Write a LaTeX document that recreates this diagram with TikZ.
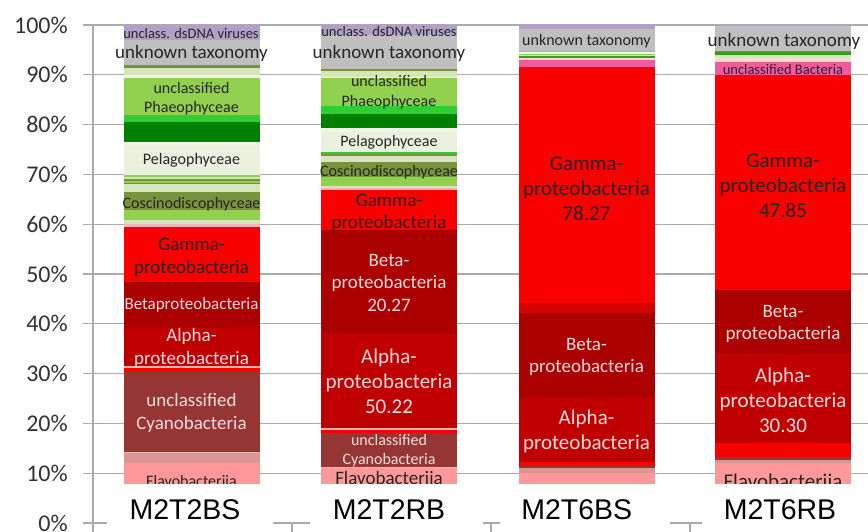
\documentclass[tikz,border=0pt]{standalone}
\usepackage{fontspec}
\setmainfont{Carlito}
\newfontfamily\catfont{Liberation Sans}
\usepackage{tikz}
\usetikzlibrary{positioning}
\usepackage{xcolor}
\definecolor{virpurple}{RGB}{178,161,199}
\definecolor{unkgray}{RGB}{191,191,191}
\definecolor{olive}{RGB}{119,147,60}
\definecolor{palegreen}{RGB}{215,228,189}
\definecolor{paleline}{RGB}{240,245,232}
\definecolor{lightgreen}{RGB}{146,208,80}
\definecolor{brightgreen}{RGB}{50,205,50}
\definecolor{darkgreen}{RGB}{0,128,0}
\definecolor{midgreen}{RGB}{50,160,30}
\definecolor{pelagbg}{RGB}{235,241,222}
\definecolor{pinkpale}{RGB}{232,185,184}
\definecolor{peach}{RGB}{252,218,205}
\definecolor{hotpink}{RGB}{238,92,158}
\definecolor{gammared}{RGB}{250,0,0}
\definecolor{gammadeep}{RGB}{215,0,0}
\definecolor{betared}{RGB}{170,0,0}
\definecolor{alphared}{RGB}{192,0,0}
\definecolor{cyano}{RGB}{150,54,52}
\definecolor{rosegray}{RGB}{218,150,148}
\definecolor{flavo}{RGB}{255,153,153}
\definecolor{lightpink}{RGB}{245,220,220}
\tikzstyle{gridline} = [draw, color=black!33, line width=1.3pt]
\tikzstyle{ticklab} = [anchor=east, inner sep=0pt, text=black!80, font=\fontsize{24}{24}\selectfont]
\tikzstyle{catlab} = [inner sep=0pt, text=black, font=\catfont\fontsize{28.5}{30}\selectfont]
\tikzstyle{labbox} = [rectangle, fill=white, inner sep=0pt, minimum height=41pt]
\tikzstyle{txtdark} = [inner sep=0pt, align=center, text=black!85]
\tikzstyle{txtlight} = [inner sep=0pt, align=center, text=lightpink]
\tikzstyle{fA} = [font=\fontsize{14.5}{17.4}\selectfont]
\tikzstyle{fB} = [font=\fontsize{16}{19.2}\selectfont]
\tikzstyle{fC} = [font=\fontsize{19}{22.5}\selectfont]
\tikzstyle{fD} = [font=\fontsize{21}{25}\selectfont]
\newcommand{\barband}[4]{\fill[#4] (#1,#2) rectangle (#1+135.5,#3);}

\begin{document}
\begin{tikzpicture}[x=1pt, y=-1pt]
	\useasboundingbox (0,0) rectangle (868,532);
	%% grid and y axis
	\foreach \k [evaluate=\k as \pc using int(10*\k)] in {0,...,10} {
		\draw[gridline] (83,523-49.8*\k) -- (868,523-49.8*\k);
		\node[ticklab] (tick\k) at (68,523-49.8*\k) {\pc\%};
	}
	\draw[gridline] (93,25) -- (93,532);
	\draw[gridline] (292,523) -- (292,532);
	\draw[gridline] (491,523) -- (491,532);
	\draw[gridline] (690,523) -- (690,532);
	%% M2T2BS bar
	\barband{124}{25}{40}{virpurple}
	\barband{124}{40}{65}{unkgray}
	\barband{124}{65}{68}{olive}
	\barband{124}{68}{75}{palegreen}
	\barband{124}{75}{77.7}{paleline}
	\barband{124}{77.7}{115}{lightgreen}
	\barband{124}{115}{121.7}{brightgreen}
	\barband{124}{121.7}{141.7}{darkgreen}
	\barband{124}{141.7}{145}{paleline}
	\barband{124}{145}{175}{pelagbg}
	\barband{124}{175}{177}{lightgreen}
	\barband{124}{177}{179}{palegreen}
	\barband{124}{179}{181}{olive}
	\barband{124}{181}{183}{lightgreen}
	\barband{124}{183}{184.5}{olive}
	\barband{124}{184.5}{191.7}{palegreen}
	\barband{124}{191.7}{210}{olive}
	\barband{124}{210}{220}{lightgreen}
	\barband{124}{220}{224}{palegreen}
	\barband{124}{224}{227}{pinkpale}
	\barband{124}{227}{281.7}{gammared}
	\barband{124}{281.7}{328.3}{betared}
	\barband{124}{328.3}{366}{alphared}
	\barband{124}{366}{368}{pinkpale}
	\barband{124}{368}{371.7}{gammared}
	\barband{124}{371.7}{451.7}{cyano}
	\barband{124}{451.7}{453.3}{pinkpale}
	\barband{124}{453.3}{462.7}{rosegray}
	\barband{124}{462.7}{523}{flavo}
	%% M2T2RB bar
	\barband{321}{25}{35}{virpurple}
	\barband{321}{35}{69.3}{unkgray}
	\barband{321}{69.3}{71}{olive}
	\barband{321}{71}{76.7}{palegreen}
	\barband{321}{76.7}{78.3}{paleline}
	\barband{321}{78.3}{106}{lightgreen}
	\barband{321}{106}{114}{brightgreen}
	\barband{321}{114}{128.3}{darkgreen}
	\barband{321}{128.3}{131.7}{paleline}
	\barband{321}{131.7}{151.7}{pelagbg}
	\barband{321}{151.7}{154}{brightgreen}
	\barband{321}{154}{156}{olive}
	\barband{321}{156}{161.7}{palegreen}
	\barband{321}{161.7}{176.7}{olive}
	\barband{321}{176.7}{186}{lightgreen}
	\barband{321}{186}{188.3}{palegreen}
	\barband{321}{188.3}{190}{pinkpale}
	\barband{321}{190}{230}{gammared}
	\barband{321}{230}{332.7}{betared}
	\barband{321}{332.7}{428.3}{alphared}
	\barband{321}{428.3}{430}{pinkpale}
	\barband{321}{430}{433.3}{gammared}
	\barband{321}{433.3}{466.7}{cyano}
	\barband{321}{466.7}{468.3}{pinkpale}
	\barband{321}{468.3}{523}{flavo}
	%% M2T6BS bar
	\barband{519}{24.5}{29.3}{virpurple}
	\barband{519}{29.3}{50.7}{unkgray}
	\barband{519}{50.7}{52.3}{lightgreen}
	\barband{519}{52.3}{53.7}{paleline}
	\barband{519}{53.7}{55}{lightgreen}
	\barband{519}{55}{56.5}{palegreen}
	\barband{519}{56.5}{58}{midgreen}
	\barband{519}{58}{60}{peach}
	\barband{519}{60}{66.7}{hotpink}
	\barband{519}{66.7}{303.3}{gammared}
	\barband{519}{303.3}{312.7}{gammadeep}
	\barband{519}{312.7}{396.7}{betared}
	\barband{519}{396.7}{461.7}{alphared}
	\barband{519}{461.7}{465.7}{gammared}
	\barband{519}{465.7}{468}{cyano}
	\barband{519}{468}{473.3}{rosegray}
	\barband{519}{473.3}{523}{flavo}
	%% M2T6RB bar
	\barband{715}{24.5}{26}{virpurple}
	\barband{715}{26}{50.7}{unkgray}
	\barband{715}{50.7}{52}{olive}
	\barband{715}{52}{54.7}{midgreen}
	\barband{715}{54.7}{57.3}{palegreen}
	\barband{715}{57.3}{61.7}{peach}
	\barband{715}{61.7}{75}{hotpink}
	\barband{715}{75}{290}{gammared}
	\barband{715}{290}{353.3}{betared}
	\barband{715}{353.3}{443.3}{alphared}
	\barband{715}{443.3}{456.7}{gammared}
	\barband{715}{456.7}{460}{cyano}
	\barband{715}{460}{463.3}{rosegray}
	\barband{715}{463.3}{523}{flavo}
	%% M2T2BS labels
	\node[txtdark, fA] (v1) at (191,33.3) {unclass. dsDNA viruses};
	\node[txtdark, fC] (u1) at (191.5,53) {unknown taxonomy};
	\node[txtdark, fB] (ph1) at (191.5,98.5) {unclassified\\Phaeophyceae};
	\node[txtdark, fB] (pe1) at (191.5,160) {Pelagophyceae};
	\node[txtdark, fB] (co1) at (191.5,204) {Coscinodiscophyceae};
	\node[txtdark, fC] (g1) at (191.5,257.5) {Gamma-\\proteobacteria};
	\node[txtlight, font=\fontsize{17}{20}\selectfont] (b1) at (191.5,305) {Betaproteobacteria};
	\node[txtlight, fC] (a1) at (191.5,347.8) {Alpha-\\proteobacteria};
	\node[txtlight, fC] (c1) at (191.5,412.8) {unclassified\\Cyanobacteria};
	\node[txtdark, fB] (f1) at (191.5,481) {Flavobacteriia};
	%% M2T2RB labels
	\node[txtdark, fA] (v2) at (389,31.7) {unclass. dsDNA viruses};
	\node[txtdark, fC] (u2) at (389,53) {unknown taxonomy};
	\node[txtdark, fB] (ph2) at (389,92.2) {unclassified\\Phaeophyceae};
	\node[txtdark, fB] (pe2) at (389,142.3) {Pelagophyceae};
	\node[txtdark, fB] (co2) at (389,172.5) {Coscinodiscophyceae};
	\node[txtdark, fC] (g2) at (389,213) {Gamma-\\proteobacteria};
	\node[txtlight, fC] (b2) at (389,282.5) {Beta-\\proteobacteria\\20.27};
	\node[txtlight, fD] (a2) at (389,381) {Alpha-\\proteobacteria\\50.22};
	\node[txtlight, fB] (c2) at (389,450.8) {unclassified\\Cyanobacteria};
	\node[txtdark, fC] (f2) at (389,477.7) {Flavobacteriia};
	%% M2T6BS labels
	\node[txtdark, fB] (u3) at (586.5,41.7) {unknown taxonomy};
	\node[txtdark, fD] (g3) at (586.5,188.3) {Gamma-\\proteobacteria\\78.27};
	\node[txtlight, fC] (b3) at (586.5,356.7) {Beta-\\proteobacteria};
	\node[txtlight, fD] (a3) at (586.5,431.7) {Alpha-\\proteobacteria};
	%% M2T6RB labels
	\node[txtdark, fC] (u4) at (784,41.7) {unknown taxonomy};
	\node[txtdark, fA] (ub4) at (783,70) {unclassified Bacteria};
	\node[txtdark, fD] (g4) at (783,186) {Gamma-\\proteobacteria\\47.85};
	\node[txtlight, fC] (b4) at (783,323.8) {Beta-\\proteobacteria};
	\node[txtlight, fD] (a4) at (783,400) {Alpha-\\proteobacteria\\30.30};
	\node[txtdark, fD] (f4) at (783,481) {Flavobacteriia};
	%% sample boxes
	\node[labbox, minimum width=166pt] (box1) at (190,504.5) {};
	\node[labbox, minimum width=173pt] (box2) at (396.5,504.5) {};
	\node[labbox, minimum width=170pt] (box3) at (585,504.5) {};
	\node[labbox, minimum width=166pt] (box4) at (785,504.5) {};
	\node[catlab] (s1) at (185,510) {M2T2BS};
	\node[catlab] (s2) at (389,510) {M2T2RB};
	\node[catlab] (s3) at (576.7,510) {M2T6BS};
	\node[catlab] (s4) at (780,510) {M2T6RB};
\end{tikzpicture}
\end{document}
